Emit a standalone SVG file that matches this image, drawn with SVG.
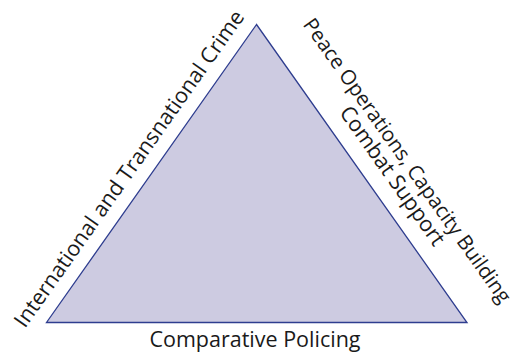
<svg xmlns="http://www.w3.org/2000/svg" width="521" height="355" viewBox="0 0 521 355">
<style>
.lbl{font-family:"Open Sans","Noto Sans",sans-serif;font-size:21.5px;fill:#1a1a1a;text-anchor:middle}
.tri{fill:#cdcbe1;stroke:#2e3d8f;stroke-width:1.3}
</style>
<rect width="521" height="355" fill="#ffffff"/>
<g id="triangle">
<polygon class="tri" points="256.5,24.5 46.5,322.5 467,322.5"/>
</g>
<g id="label-left">
<text class="lbl" transform="translate(135.2,172.9) rotate(-54.8)">International and Transnational Crime</text>
</g>
<g id="label-right">
<text class="lbl" style="font-size:20.5px" transform="translate(401.5,164.5) rotate(54.7)">Peace Operations, Capacity Building</text>
<text class="lbl" transform="translate(386.5,180) rotate(54.7)">Combat Support</text>
</g>
<g id="label-bottom">
<text class="lbl" x="255" y="347">Comparative Policing</text>
</g>
</svg>
